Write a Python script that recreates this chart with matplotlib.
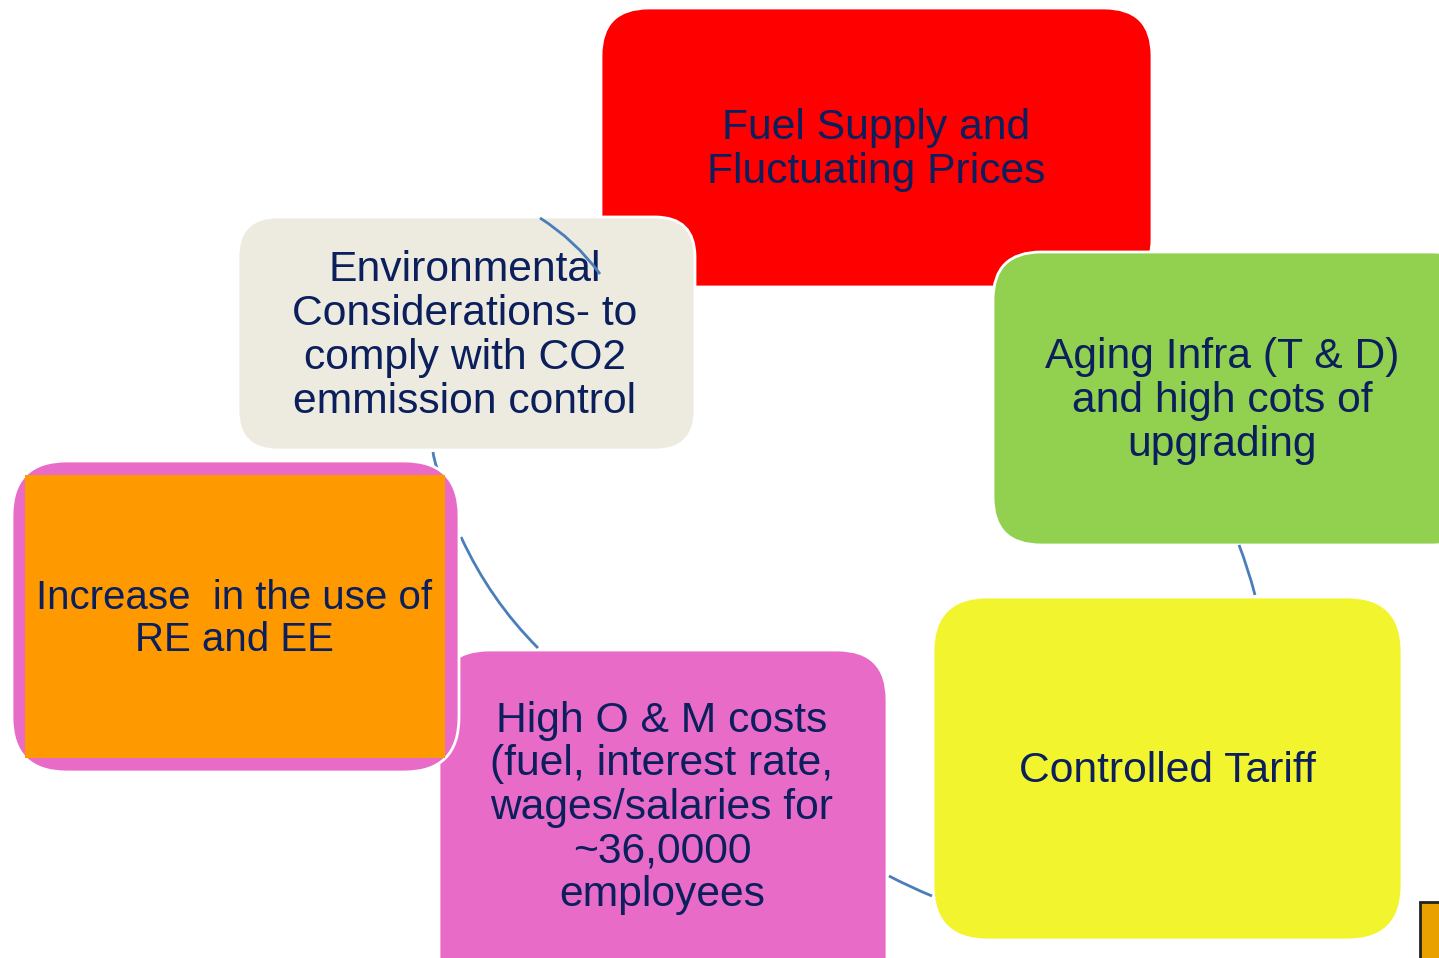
import matplotlib.pyplot as plt
from matplotlib.patches import FancyBboxPatch, Rectangle, PathPatch
from matplotlib.path import Path

plt.rcParams['font.family'] = ['Liberation Sans', 'DejaVu Sans']

# box labels
labels = [
    "Fuel Supply and\nFluctuating Prices",
    "Environmental\nConsiderations- to\ncomply with CO2\nemmission control",
    "Aging Infra (T & D)\nand high cots of\nupgrading",
    "Controlled Tariff",
    "High O & M costs\n(fuel, interest rate,\nwages/salaries for\n~36,0000\nemployees",
    "Increase  in the use of\nRE and EE",
]
colors = ['#FF0000', '#EDEAE0', '#92D050', '#F2F42E', '#E96BC8', '#FF9900']

# layout in pixels: x0, y0, x1, y1, corner radius, text centre x, text centre y
boxes = [
    (601, 8, 1152, 287, 48, 876, 150),
    (238, 217, 695, 450, 40, 465, 336),
    (993, 252, 1480, 545, 48, 1222, 401),
    (933, 597, 1402, 940, 55, 1167, 771),
    (439, 650, 887, 1010, 50, 662, 808),
]
left_outer = (12, 461, 459, 772, 55)
left_inner = (25, 475, 445, 758)
left_text = (234, 619)

# connector curves: start, control, end
links = [
    ((540, 218), (575, 240), (600, 274)),
    ((433, 452), (434, 460), (437, 468)),
    ((461, 537), (490, 600), (538, 648)),
    ((889, 876), (910, 887), (932, 896)),
    ((1239, 545), (1248, 568), (1255, 595)),
]

fig = plt.figure(figsize=(14.39, 9.58), dpi=100)
ax = fig.add_axes([0, 0, 1, 1])
ax.set_xlim(0, 1439)
ax.set_ylim(958, 0)
ax.axis('off')

txt_kw = dict(ha='center', va='center', fontsize=30.7, color='#0B1F5C',
              linespacing=1.12)


def rbox(x0, y0, x1, y1, r, fc, z):
    p = FancyBboxPatch((x0 + r, y0 + r), x1 - x0 - 2 * r, y1 - y0 - 2 * r,
                       boxstyle=f"round,pad={r}", fc=fc, ec='white', lw=2,
                       zorder=z)
    ax.add_patch(p)


for i in range(5):
    x0, y0, x1, y1, r, tx, ty = boxes[i]
    rbox(x0, y0, x1, y1, r, colors[i], 2 + i)
    ax.text(tx, ty, labels[i], zorder=2.5 + i, **txt_kw)

for s, c, e in links:
    path = Path([s, c, e], [Path.MOVETO, Path.CURVE3, Path.CURVE3])
    ax.add_patch(PathPatch(path, fc='none', ec='#4A7EBB', lw=2, zorder=20))

# left box: pink frame with orange inside
x0, y0, x1, y1, r = left_outer
rbox(x0, y0, x1, y1, r, colors[4], 30)
x0, y0, x1, y1 = left_inner
ax.add_patch(Rectangle((x0, y0), x1 - x0, y1 - y0, fc=colors[5], ec='none',
                       zorder=31))
ax.text(left_text[0], left_text[1], labels[5], zorder=32,
        **dict(txt_kw, fontsize=29))

# small box peeking in at the bottom right
ax.add_patch(Rectangle((1420, 902), 40, 80, fc='#E9A100', ec='#222222',
                       lw=2, zorder=33))

fig.savefig('out.png', dpi=100)
